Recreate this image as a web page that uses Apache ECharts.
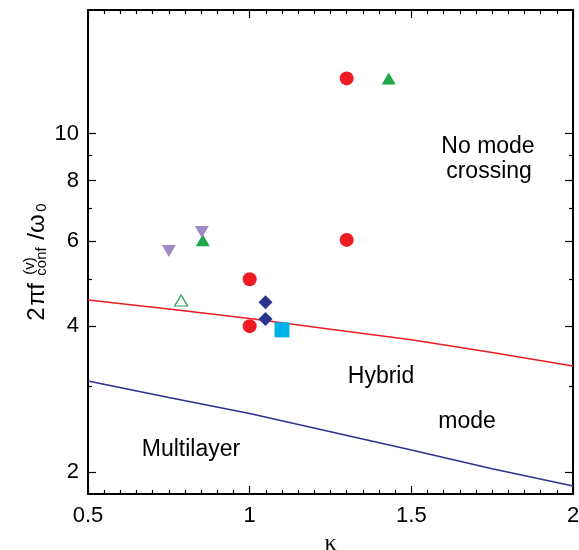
<!DOCTYPE html>
<html>
<head>
<meta charset="utf-8">
<script src="https://cdn.jsdelivr.net/npm/echarts@6/dist/echarts.min.js"></script>
<style>
  html, body { margin: 0; padding: 0; background: #fff; }
  #chart { width: 579px; height: 550px; }
</style>
</head>
<body>
<div id="chart"></div>
<script>
// boundary curves (kappa -> 2 pi f / omega0)
var curveKappa = [0.5, 0.75, 1.0, 1.25, 1.5, 1.75, 2.0];
var upperCurve = [4.53, 4.34, 4.15, 3.94, 3.75, 3.53, 3.31];
var lowerCurve = [3.08, 2.85, 2.64, 2.42, 2.22, 2.03, 1.87];

// measured points
var circleKappa = [1.0, 1.0, 1.3, 1.3];
var circleFreq = [4.0, 5.0, 6.03, 13.0];
var upTriKappa = [0.855, 1.43];
var upTriFreq = [6.02, 13.0];
var downTriKappa = [0.75, 0.852];
var downTriFreq = [5.72, 6.26];
var openTriKappa = [0.788];
var openTriFreq = [4.52];
var diamondKappa = [1.049, 1.049];
var diamondFreq = [4.48, 4.14];
var squareKappa = [1.1];
var squareFreq = [3.93];

var yMajorTicks = [2, 4, 6, 8, 10];
var yMinorTicks = [3, 5, 7, 9];

var font = '"Liberation Sans", Arial, Helvetica, sans-serif';

function zip(xs, ys) {
  var out = [];
  for (var i = 0; i < xs.length; i++) out.push([xs[i], ys[i]]);
  return out;
}

function xAxisDef(pos, showLabel) {
  return {
    type: 'value', position: pos, min: 0.5, max: 2, interval: 0.5,
    axisLine: { onZero: false, lineStyle: { color: '#000', width: 2 } },
    axisTick: { inside: true, length: 8, lineStyle: { color: '#000', width: 1.2 } },
    minorTick: { show: true, splitNumber: 10, length: 4, lineStyle: { color: '#000', width: 1.2 } },
    splitLine: { show: false },
    axisLabel: { show: showLabel, color: '#000', fontSize: 22, fontFamily: font, margin: 11 },
    name: showLabel ? 'κ' : '',
    nameLocation: 'middle', nameGap: 34,
    nameTextStyle: { color: '#000', fontSize: 24, fontFamily: '"Liberation Serif", serif' }
  };
}

function yAxisDef(pos, ticks, len, main) {
  return {
    type: 'log', logBase: 10, min: 1.8, max: 18, position: pos,
    axisLine: { show: main, onZero: false, lineStyle: { color: '#000', width: 2 } },
    axisTick: { show: true, inside: true, length: len, customValues: ticks,
      lineStyle: { color: '#000', width: 1.2 } },
    axisLabel: { show: main && pos === 'left', customValues: ticks, color: '#000',
      fontSize: 22, fontFamily: font, margin: 9 },
    splitLine: { show: false },
    minorTick: { show: false }
  };
}

function scatter(name, xs, ys, symbol, size, style, rotate) {
  style.opacity = 1;
  return {
    name: name, type: 'scatter', z: 3,
    symbol: symbol, symbolSize: size, symbolRotate: rotate || 0,
    itemStyle: style,
    data: zip(xs, ys)
  };
}

var red = '#ed1c24';
var green = '#1fa84a';

var chart = echarts.init(document.getElementById('chart'));
chart.setOption({
  animation: false,
  backgroundColor: '#fff',
  grid: { left: 88, right: 6, top: 10, bottom: 56, outerBoundsMode: 'none', containLabel: false },
  xAxis: [xAxisDef('bottom', true), xAxisDef('top', false)],
  yAxis: [
    yAxisDef('left', yMajorTicks, 8, true),
    yAxisDef('right', yMajorTicks, 8, true),
    yAxisDef('left', yMinorTicks, 4, false),
    yAxisDef('right', yMinorTicks, 4, false)
  ],
  series: [
    {
      type: 'line', z: 1, showSymbol: false,
      lineStyle: { color: red, width: 1.5 },
      data: zip(curveKappa, upperCurve)
    },
    {
      type: 'line', z: 1, showSymbol: false,
      lineStyle: { color: '#2e3192', width: 1.5 },
      data: zip(curveKappa, lowerCurve)
    },
    scatter('circle', circleKappa, circleFreq, 'circle', 14, { color: red }),
    scatter('up', upTriKappa, upTriFreq, 'triangle', [14, 12], { color: green }),
    scatter('down', downTriKappa, downTriFreq, 'triangle', [14, 12], { color: '#a08ac4' }, 180),
    scatter('open', openTriKappa, openTriFreq, 'triangle', [13, 11],
      { color: '#fff', borderColor: green, borderWidth: 1.2 }),
    scatter('diamond', diamondKappa, diamondFreq, 'diamond', [14, 14], { color: '#28348f' }),
    scatter('square', squareKappa, squareFreq, 'rect', [15, 15], { color: '#00b3e8' })
  ],
  graphic: [
    {
      type: 'group', x: 37, y: 320.7, rotation: Math.PI / 2,
      children: [
        { type: 'text', x: 0, y: 0, style: { text: '2', font: '24px ' + font, fill: '#000', verticalAlign: 'middle' } },
        { type: 'text', x: 15, y: 0, style: { text: 'π', font: '24px ' + font, fill: '#000', verticalAlign: 'middle' } },
        { type: 'text', x: 31, y: 0, style: { text: 'f', font: '24px ' + font, fill: '#000', verticalAlign: 'middle' } },
        { type: 'text', x: 46, y: -7, style: { text: '(v)', font: '15px ' + font, fill: '#000', verticalAlign: 'middle' } },
        { type: 'text', x: 45, y: 5, style: { text: 'conf', font: '15px ' + font, fill: '#000', verticalAlign: 'middle' } },
        { type: 'text', x: 81, y: 0, style: { text: '/ω', font: '24px ' + font, fill: '#000', verticalAlign: 'middle' } },
        { type: 'text', x: 109, y: 5, style: { text: '0', font: '15px ' + font, fill: '#000', verticalAlign: 'middle' } }
      ]
    },
    { type: 'text', x: 488, y: 147, style: { text: 'No mode', font: '23px ' + font, fill: '#000', align: 'center', verticalAlign: 'middle' } },
    { type: 'text', x: 489, y: 172, style: { text: 'crossing', font: '23px ' + font, fill: '#000', align: 'center', verticalAlign: 'middle' } },
    { type: 'text', x: 381, y: 377, style: { text: 'Hybrid', font: '23px ' + font, fill: '#000', align: 'center', verticalAlign: 'middle' } },
    { type: 'text', x: 467, y: 422, style: { text: 'mode', font: '23px ' + font, fill: '#000', align: 'center', verticalAlign: 'middle' } },
    { type: 'text', x: 191, y: 450, style: { text: 'Multilayer', font: '23px ' + font, fill: '#000', align: 'center', verticalAlign: 'middle' } }
  ]
});
</script>
</body>
</html>
